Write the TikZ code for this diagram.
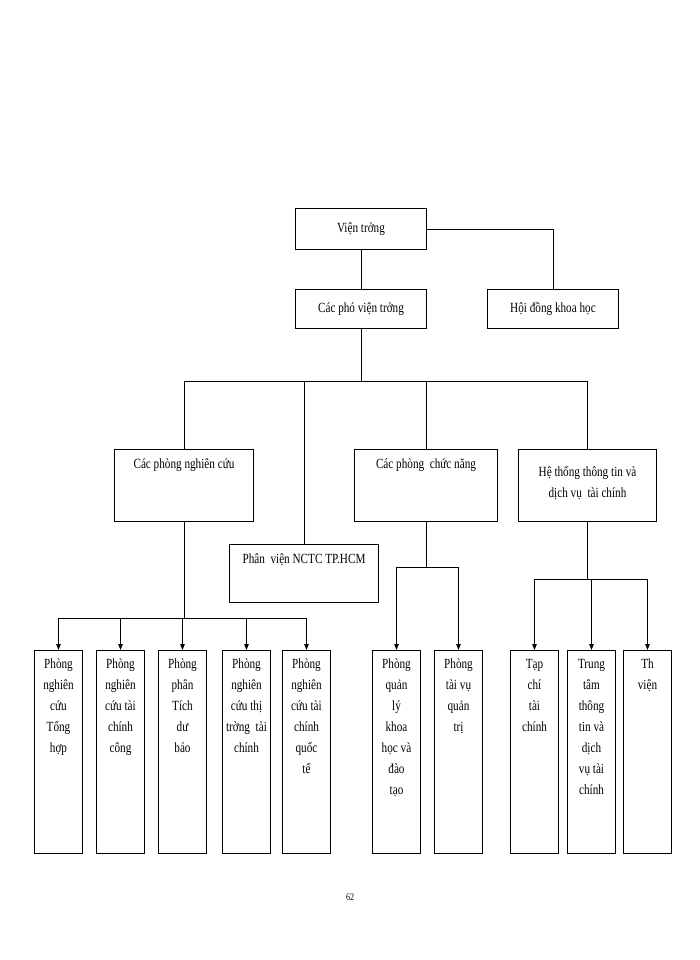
\documentclass[tikz,border=0pt]{standalone}
\usepackage{fontspec}
\setmainfont[FakeStretch=0.8]{Liberation Serif}
\usetikzlibrary{arrows.meta}
\begin{document}
\begin{tikzpicture}[x=1pt,y=-1pt,
  box/.style={draw,line width=1pt,anchor=north west,inner sep=0pt},
  txt/.style={font=\fontsize{14}{21}\selectfont,align=center,inner sep=0pt},
  ln/.style={line width=0.8pt},
  ar/.style={line width=0.8pt,-{Triangle[length=6pt,width=4.5pt]}}]
\useasboundingbox (0,0) rectangle (700,960);
% top
\node[box,minimum width=131,minimum height=41] (vt) at (295,208) {};
\node[txt] at (vt.center) {Viện trởng};
\node[box,minimum width=131,minimum height=39] (pvt) at (295,289) {};
\node[txt] at (pvt.center) {Các phó viện trởng};
\node[box,minimum width=131,minimum height=39] (hd) at (487,289) {};
\node[txt] at (hd.center) {Hội đồng khoa học};
\draw[ln] (vt.south) -- (pvt.north);
\draw[ln] (vt.east) -| (hd.north);
% level 2
\node[box,minimum width=139,minimum height=72] (pnc) at (114,449) {};
\node[txt,anchor=north] at ([yshift=-10]pnc.north) {Các phòng nghiên cứu};
\node[box,minimum width=149,minimum height=58] (pv) at (229,544) {};
\node[txt,anchor=north] at ([yshift=-10]pv.north) {Phân\ \ viện NCTC TP.HCM};
\node[box,minimum width=143,minimum height=72] (pcn) at (354,449) {};
\node[txt,anchor=north] at ([yshift=-10]pcn.north) {Các phòng\ \ chức năng};
\node[box,minimum width=138,minimum height=72] (ht) at (518,449) {};
\node[txt,anchor=north] at ([yshift=-17]ht.north) {Hệ thống thông tin và\\dịch vụ\ \ tài chính};
\coordinate (bus) at (pvt.south |- 0,381);
\draw[ln] (pvt.south) -- (bus);
\draw[ln] (pnc.north |- 0,381) -- (ht.north |- 0,381);
\draw[ln] (pnc.north |- 0,381) -- (pnc.north);
\draw[ln] (pv.north |- 0,381) -- (pv.north);
\draw[ln] (pcn.north |- 0,381) -- (pcn.north);
\draw[ln] (ht.north |- 0,381) -- (ht.north);
% level 3 boxes
\foreach \n/\x/\t in {a/34/{Phòng\\nghiên\\cứu\\Tổng\\hợp},
                      b/96/{Phòng\\nghiên\\cứu tài\\chính\\công},
                      c/158/{Phòng\\phân\\Tích\\dư\\báo},
                      d/222/{Phòng\\nghiên\\cứu thị\\trờng\ \ tài\\chính},
                      e/282/{Phòng\\nghiên\\cứu tài\\chính\\quốc\\tế},
                      f/372/{Phòng\\quản\\lý\\khoa\\học và\\đào\\tạo},
                      g/434/{Phòng\\tài vụ\\quản\\trị},
                      h/510/{Tạp\\chí\\tài\\chính},
                      i/567/{Trung\\tâm\\thông\\tin và\\dịch\\vụ tài\\chính},
                      j/623/{Th\\viện}}{
  \node[box,minimum width=48,minimum height=203] (\n) at (\x,650) {};
  \node[txt,anchor=north] at ([yshift=-9]\n.north) {\t};
}
% research branch
\draw[ln] (184,521) -- (184,618);
\draw[ln] (a.north |- 0,618) -- (e.north |- 0,618);
\foreach \n in {a,b,c,d,e}{\draw[ar] (\n.north |- 0,618) -- (\n.north);}
% functional branch
\draw[ln] (pcn.south) -- (pcn.south |- 0,567);
\draw[ln] (f.north |- 0,567) -- (g.north |- 0,567);
\foreach \n in {f,g}{\draw[ar] (\n.north |- 0,567) -- (\n.north);}
% info branch
\draw[ln] (ht.south) -- (ht.south |- 0,579);
\draw[ln] (h.north |- 0,579) -- (j.north |- 0,579);
\foreach \n in {h,i,j}{\draw[ar] (\n.north |- 0,579) -- (\n.north);}
\node[font=\fontsize{10}{12}\selectfont] (pg) at (350,897) {62};
\end{tikzpicture}
\end{document}
